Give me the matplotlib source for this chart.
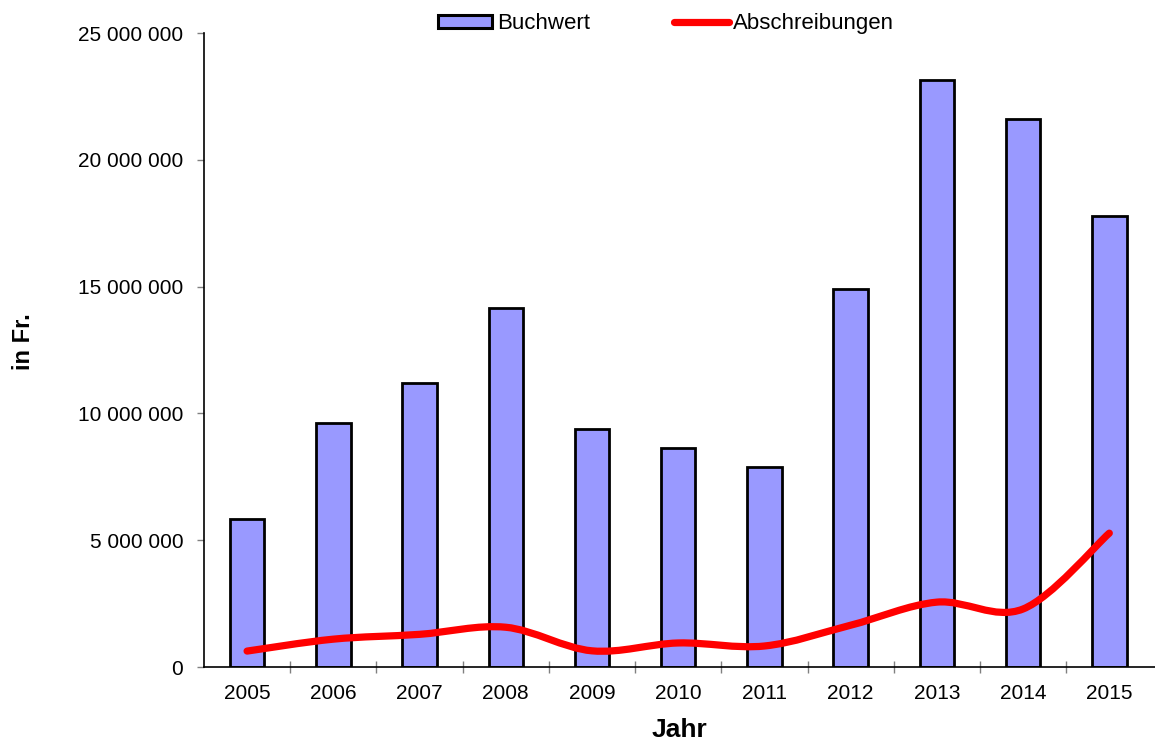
import numpy as np
import matplotlib
matplotlib.use("Agg")
import matplotlib.pyplot as plt
from matplotlib.path import Path
from matplotlib.patches import PathPatch
from matplotlib.lines import Line2D
from matplotlib.ticker import FuncFormatter, FixedLocator

plt.rcParams['font.family'] = ['Liberation Sans', 'DejaVu Sans']

years = ["2005", "2006", "2007", "2008", "2009", "2010",
         "2011", "2012", "2013", "2014", "2015"]
buchwert = [5840000, 9620000, 11190000, 14160000, 9390000, 8640000,
            7900000, 14900000, 23150000, 21600000, 17770000]
abschreibungen = [630000, 1100000, 1290000, 1570000, 640000, 950000,
                  830000, 1650000, 2560000, 2290000, 5280000]


def smooth_path(xs, ys):
    # Catmull-Rom style bezier through every point (like a spreadsheet "smoothed line")
    pts = np.column_stack([xs, ys]).astype(float)
    verts = [pts[0]]
    codes = [Path.MOVETO]
    n = len(pts)
    for i in range(n - 1):
        p0 = pts[i - 1] if i > 0 else pts[i]
        p1 = pts[i]
        p2 = pts[i + 1]
        p3 = pts[i + 2] if i + 2 < n else pts[i + 1]
        c1 = p1 + (p2 - p0) / 6.0
        c2 = p2 - (p3 - p1) / 6.0
        verts += [c1, c2, p2]
        codes += [Path.CURVE4] * 3
    return Path(verts, codes)


fig = plt.figure(figsize=(11.55, 7.42), dpi=100)
ax = fig.add_axes([0.1766, 0.101, 0.8234, 0.8545])

x = np.arange(len(years))
ax.bar(x, buchwert, width=0.40, color="#9999FF", edgecolor="black",
       linewidth=2, zorder=2)

line = PathPatch(smooth_path(x, abschreibungen), facecolor="none",
                 edgecolor="#FF0000", linewidth=5.2, capstyle="round",
                 joinstyle="round", zorder=3)
ax.add_patch(line)

ax.set_xlim(-0.5, 10.53)
ax.set_ylim(0, 25000000)

ax.set_xticks(x)
ax.set_xticklabels(years)
ax.xaxis.set_minor_locator(FixedLocator(np.arange(0.5, 10.5, 1.0)))
ax.tick_params(axis="x", which="major", length=0, pad=12, labelsize=15)
ax.tick_params(axis="x", which="minor", direction="inout", length=8,
               width=1, color="#808080")

ax.set_yticks(np.arange(0, 25000001, 5000000))
ax.yaxis.set_major_formatter(FuncFormatter(lambda v, p: f"{v:,.0f}".replace(",", " ")))
ax.tick_params(axis="y", direction="out", length=5, width=1,
               color="#808080", labelsize=15, pad=10)

for side in ("top", "right"):
    ax.spines[side].set_visible(False)
for side in ("left", "bottom"):
    ax.spines[side].set_linewidth(1.2)

ax.set_xlabel("Jahr", fontsize=19, fontweight="bold", labelpad=11)
fig.text(24 / 1155, 1 - 342 / 742, "in Fr.", rotation=90, fontsize=17,
         fontweight="bold", ha="center", va="center")

handles = [
    plt.Rectangle((0, 0), 1, 1, facecolor="#9999FF", edgecolor="black", linewidth=2.2),
    Line2D([0], [0], color="#FF0000", linewidth=5.2, solid_capstyle="round"),
]
fig.legend(handles, ["Buchwert", "Abschreibungen"], loc="center",
           bbox_to_anchor=(0.5765, 0.968), ncol=2, frameon=False,
           fontsize=16, handlelength=2.45, handleheight=0.5,
           handletextpad=0.2, columnspacing=3.8)

fig.savefig("out.png", dpi=100)
